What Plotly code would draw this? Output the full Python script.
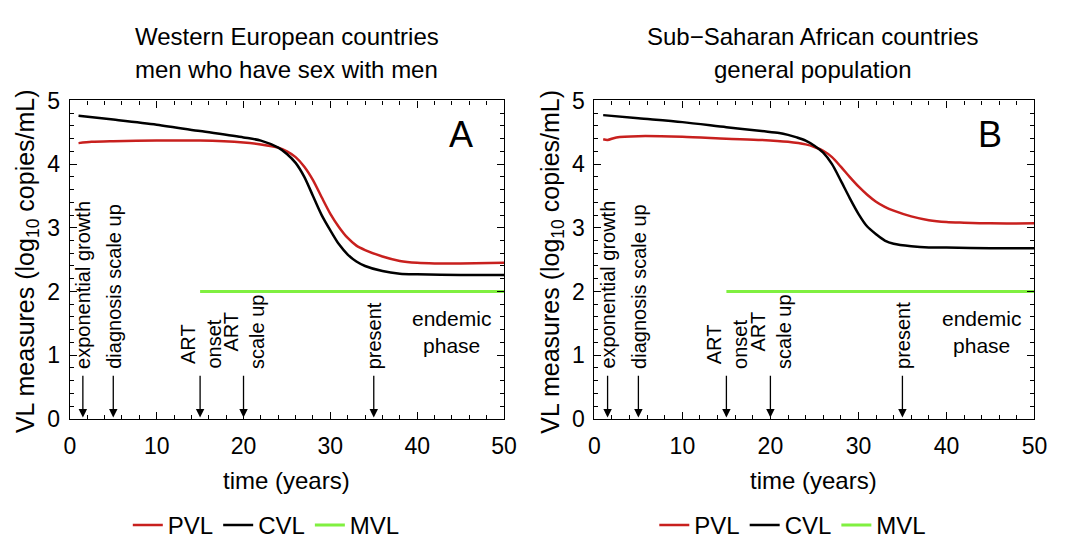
import plotly.graph_objects as go

# ---------------- data ----------------
A_cvl_t = [1, 5, 10, 15, 20, 22, 24, 25, 26, 27, 28, 29, 30, 31, 32, 33, 34, 36, 38, 40, 45, 50]
A_cvl_v = [4.76, 4.70, 4.62, 4.52, 4.42, 4.37, 4.26, 4.16, 4.02, 3.80, 3.50, 3.20, 2.96, 2.74, 2.58,
           2.47, 2.40, 2.32, 2.28, 2.27, 2.26, 2.26]
A_pvl_t = [1, 2.5, 5, 10, 15, 20, 22, 24, 25, 26, 27, 28, 29, 30, 31, 32, 33, 34, 36, 38, 40, 42, 45, 50]
A_pvl_v = [4.33, 4.35, 4.36, 4.37, 4.37, 4.34, 4.31, 4.26, 4.20, 4.11, 3.96, 3.75, 3.48, 3.22, 3.01,
           2.84, 2.72, 2.65, 2.55, 2.48, 2.45, 2.44, 2.44, 2.45]
A_mvl_t = [15, 50]
A_mvl_v = [2.0, 2.0]

B_cvl_t = [1, 5, 10, 15, 19, 21, 22, 23, 24, 25, 26, 27, 28, 29, 30, 31, 32, 33, 34, 36, 38, 40, 45, 50]
B_cvl_v = [4.77, 4.72, 4.66, 4.58, 4.52, 4.49, 4.46, 4.42, 4.37, 4.29, 4.18, 4.00, 3.74, 3.47, 3.22,
           3.02, 2.90, 2.80, 2.75, 2.71, 2.69, 2.69, 2.68, 2.68]
B_pvl_t = [1, 1.5, 2.5, 5, 10, 15, 19, 22, 24, 25, 26, 27, 28, 29, 30, 31, 32, 33, 34, 36, 38, 40, 42, 45, 50]
B_pvl_v = [4.39, 4.38, 4.42, 4.44, 4.43, 4.40, 4.38, 4.35, 4.31, 4.27, 4.21, 4.11, 3.96, 3.80, 3.65,
           3.52, 3.41, 3.33, 3.27, 3.18, 3.12, 3.09, 3.08, 3.07, 3.07]
B_mvl_t = [15, 50]
B_mvl_v = [2.0, 2.0]

event_t = [1.5, 5, 15, 20, 35]
event_labels = ["exponential growth", "diagnosis scale up", "ART<br>onset", "ART<br>scale up", "present"]

title_lines = [["Western European countries", "men who have sex with men"],
               ["Sub\u2212Saharan African countries", "general population"]]
panel_letters = ["A", "B"]

RED = "#C8201E"
BLACK = "#000000"
GREEN = "#80F040"
FONT = "Liberation Sans, Arial, Helvetica, sans-serif"

W, H = 1072, 548


def px(x):
    return x / W


def py(y):
    return (H - y) / H


fig = go.Figure()

panels = [
    dict(x="x", y="y", legend="legend", data=[(A_pvl_t, A_pvl_v), (A_cvl_t, A_cvl_v), (A_mvl_t, A_mvl_v)]),
    dict(x="x2", y="y2", legend="legend2", data=[(B_pvl_t, B_pvl_v), (B_cvl_t, B_cvl_v), (B_mvl_t, B_mvl_v)]),
]
names = ["PVL", "CVL", "MVL"]
colors = [RED, BLACK, GREEN]
widths = [2.5, 2.5, 3]

for p in panels:
    for (t, v), nm, c, w in zip(p["data"], names, colors, widths):
        fig.add_trace(go.Scatter(x=t, y=v, mode="lines", name=nm, xaxis=p["x"], yaxis=p["y"],
                                 legend=p["legend"],
                                 line=dict(color=c, width=w, shape="spline", smoothing=0.8),
                                 hoverinfo="skip"))

x_dom = [[px(65), px(507)], [px(599), px(1047)]]
y_dom = [py(436), py(94)]

axis_common = dict(showline=True, linecolor="black", linewidth=1.2, mirror="ticks",
                   ticks="inside", ticklen=7, tickwidth=1.2, tickcolor="black",
                   showgrid=False, zeroline=False,
                   tickfont=dict(family=FONT, size=23, color="black"))
minor_x = dict(dtick=2, ticklen=4, tickwidth=1.2, tickcolor="black", ticks="inside")
minor_y = dict(dtick=0.2, ticklen=4, tickwidth=1.2, tickcolor="black", ticks="inside")

layout = dict(
    width=W, height=H,
    margin=dict(l=0, r=0, t=0, b=0),
    paper_bgcolor="white", plot_bgcolor="white",
    font=dict(family=FONT, color="black"),
    xaxis=dict(domain=x_dom[0], range=[0, 50], dtick=10, anchor="y", ticklabelstandoff=7,
               minor=minor_x, **axis_common),
    yaxis=dict(domain=y_dom, range=[0, 5], dtick=1, anchor="x", ticklabelstandoff=4,
               minor=minor_y, **axis_common),
    xaxis2=dict(domain=x_dom[1], range=[0, 50], dtick=10, anchor="y2", ticklabelstandoff=7,
                minor=minor_x, **axis_common),
    yaxis2=dict(domain=y_dom, range=[0, 5], dtick=1, anchor="x2", ticklabelstandoff=4,
                minor=minor_y, **axis_common),
    legend=dict(orientation="h", x=px(265), xanchor="center", y=py(551), yanchor="middle",
                font=dict(family=FONT, size=24, color="black"), itemwidth=30,
                bgcolor="rgba(0,0,0,0)"),
    legend2=dict(orientation="h", x=px(801), xanchor="center", y=py(551), yanchor="middle",
                 font=dict(family=FONT, size=24, color="black"), itemwidth=30,
                 bgcolor="rgba(0,0,0,0)"),
    showlegend=True,
)
fig.update_layout(**layout)

annotations = []
title_x = [286, 822]
ytitle_x = [22, 556]
for i in range(2):
    xr = "x" if i == 0 else "x2"
    yr = "y" if i == 0 else "y2"
    # panel titles (two lines)
    for line, yc in zip(title_lines[i], [25, 61]):
        annotations.append(dict(text=line, x=px(title_x[i]), y=py(yc), xref="paper", yref="paper",
                                xanchor="center", yanchor="middle", showarrow=False,
                                font=dict(family=FONT, size=24, color="black")))
    # y axis title
    annotations.append(dict(text="VL measures (log<sub>10</sub> copies/mL)", x=px(ytitle_x[i]), y=py(267),
                            xref="paper", yref="paper", xanchor="center", yanchor="middle",
                            textangle=-90, showarrow=False,
                            font=dict(family=FONT, size=25, color="black")))
    # x axis title
    annotations.append(dict(text="time (years)", x=px(title_x[i]), y=py(502), xref="paper", yref="paper",
                            xanchor="center", yanchor="middle", showarrow=False,
                            font=dict(family=FONT, size=24, color="black")))
    # panel letter
    annotations.append(dict(text=panel_letters[i], x=45, y=4.47, xref=xr, yref=yr,
                            xanchor="center", yanchor="middle", showarrow=False,
                            font=dict(family=FONT, size=36, color="black")))
    # endemic phase
    annotations.append(dict(text="endemic<br>phase", x=44, y=1.37, xref=xr, yref=yr,
                            xanchor="center", yanchor="middle", showarrow=False,
                            font=dict(family=FONT, size=21, color="black")))
    # event arrows and labels
    for t, lab in zip(event_t, event_labels):
        annotations.append(dict(text="", x=t, y=0.02, ax=t, ay=0.70, xref=xr, yref=yr,
                                axref=xr, ayref=yr, showarrow=True, arrowhead=2, arrowsize=1.3,
                                arrowwidth=1.3, arrowcolor="black"))
        annotations.append(dict(text=lab, x=t, y=0.75, xref=xr, yref=yr, textangle=-90,
                                xanchor="center", yanchor="bottom", align="center", showarrow=False,
                                font=dict(family=FONT, size=20, color="black")))

fig.update_layout(annotations=annotations)

fig.write_html("out.html")
